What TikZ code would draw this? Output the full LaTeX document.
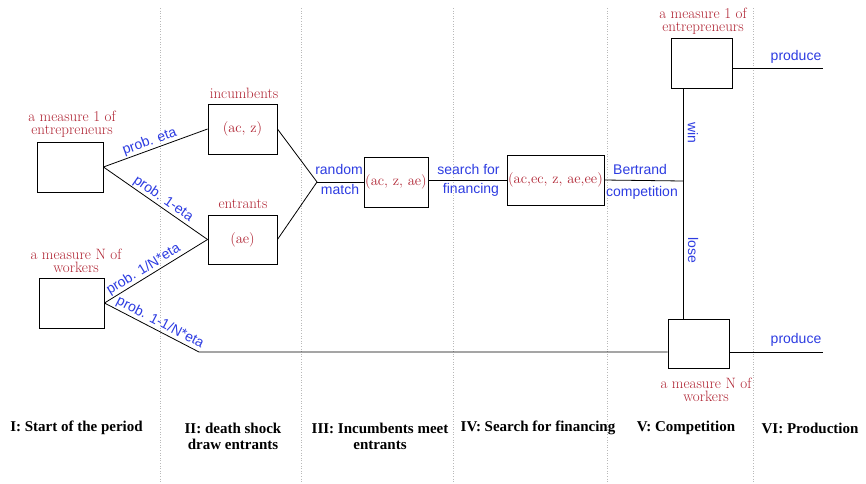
\documentclass[tikz,border=0pt]{standalone}
\usepackage{fontspec}
\newfontfamily\blufont{Liberation Sans}
\newfontfamily\boldser{Liberation Serif}
\definecolor{redt}{RGB}{175,35,50}
\definecolor{bluet}{RGB}{45,60,225}
\begin{document}
\begin{tikzpicture}[x=1pt,y=-1pt,
  box/.style={draw=black, line width=0.9pt, inner sep=0pt, text=redt, font=\fontsize{14.5}{14}\selectfont},
  rlab/.style={text=redt, font=\fontsize{15}{13.5}\selectfont, align=center, inner sep=0pt},
  blab/.style={text=bluet, font=\blufont\fontsize{14}{16}\selectfont, inner sep=1pt},
  phase/.style={font=\boldser\bfseries\fontsize{15}{16}\selectfont, align=center, inner sep=0pt},
  sepline/.style={draw=gray!55, dotted, line width=0.6pt},
  conn/.style={draw=black, line width=0.8pt}]
\useasboundingbox (0,0) rectangle (866,483);
% separators
\foreach \x in {160,301,453,607,753} \draw[sepline] (\x,8) -- (\x,483);
% boxes
\node[box, minimum width=66pt, minimum height=50pt] (E1) at (70,167) {};
\node[box, minimum width=69pt, minimum height=50pt] (I1) at (242.5,129) {(ac, z)};
\node[box, minimum width=69pt, minimum height=49pt] (N1) at (242.5,239.5) {(ae)};
\node[box, minimum width=65pt, minimum height=50pt] (W1) at (71.5,303) {};
\node[box, minimum width=64pt, minimum height=50pt] (M) at (396,182) {(ac, z, ae)};
\node[box, minimum width=97pt, minimum height=50pt] (F) at (555.5,180) {(ac,ec, z, ae,ee)};
\node[box, minimum width=61pt, minimum height=50pt] (T) at (701.5,63) {};
\node[box, minimum width=61pt, minimum height=49pt] (B) at (698.5,343.5) {};
% red labels
\node[rlab] (lE1) at (72,124) {a measure 1 of\\entrepreneurs};
\node[rlab] (lI1) at (244,93) {incumbents};
\node[rlab] (lN1) at (243,204) {entrants};
\node[rlab] (lW1) at (76,261) {a measure N of\\workers};
\node[rlab] (lT) at (703,21) {a measure 1 of\\entrepreneurs};
\node[rlab] (lB) at (706,390) {a measure N of\\workers};
% coordinates
\coordinate (J) at (317,182);
\coordinate (K) at (199,352);
\coordinate (C) at (683,181);
\coordinate (P1) at (823,68);
\coordinate (P2) at (823,352);
% connectors
\draw[conn] (E1.east) -- node[blab, sloped, above, pos=0.47] {prob. eta} (I1.west);
\draw[conn] (E1.east) -- node[blab, sloped, above, pos=0.53] {prob. 1-eta} (N1.west);
\draw[conn] (W1.east) -- node[blab, sloped, above, pos=0.42] {prob. 1/N*eta} (N1.west);
\draw[conn] (W1.east) -- node[blab, sloped, above, pos=0.55] {prob. 1-1/N*eta} (K) -- (K -| B.west);
\draw[conn] (I1.east) -- (J);
\draw[conn] (N1.east) -- (J);
\draw[conn] (J) -- (J -| M.west);
\draw[conn] (M.east |- F.west) -- (F.west);
\draw[conn] (F.east) -- (C);
\draw[conn] (C |- T.south) -- (C |- B.north);
\draw[conn] (T.east |- P1) -- (P1);
\draw[conn] (B.east |- P2) -- (P2);
% blue labels
\node[blab] (t1) at (339,169) {random};
\node[blab] (t2) at (340,189) {match};
\node[blab] (t3) at (468.5,169) {search for};
\node[blab] (t4) at (471,190) {financing};
\node[blab] (t5) at (640,169) {Bertrand};
\node[blab] (t6) at (642,193) {competition};
\node[blab] (t7) at (796,57) {produce};
\node[blab] (t8) at (796,340) {produce};
\node[blab, rotate=-90] (t9) at (693,133) {win};
\node[blab, rotate=-90] (t10) at (693,250) {lose};
% phases
\node[phase] (p1) at (76.5,428) {I: Start of the period};
\node[phase] (p2) at (233,436) {II: death shock\\draw entrants};
\node[phase] (p3) at (380,436) {III: Incumbents meet\\entrants};
\node[phase] (p4) at (538,428) {IV: Search for financing};
\node[phase] (p5) at (686,428) {V: Competition};
\node[phase] (p6) at (810,428) {VI: Production};
\end{tikzpicture}
\end{document}
